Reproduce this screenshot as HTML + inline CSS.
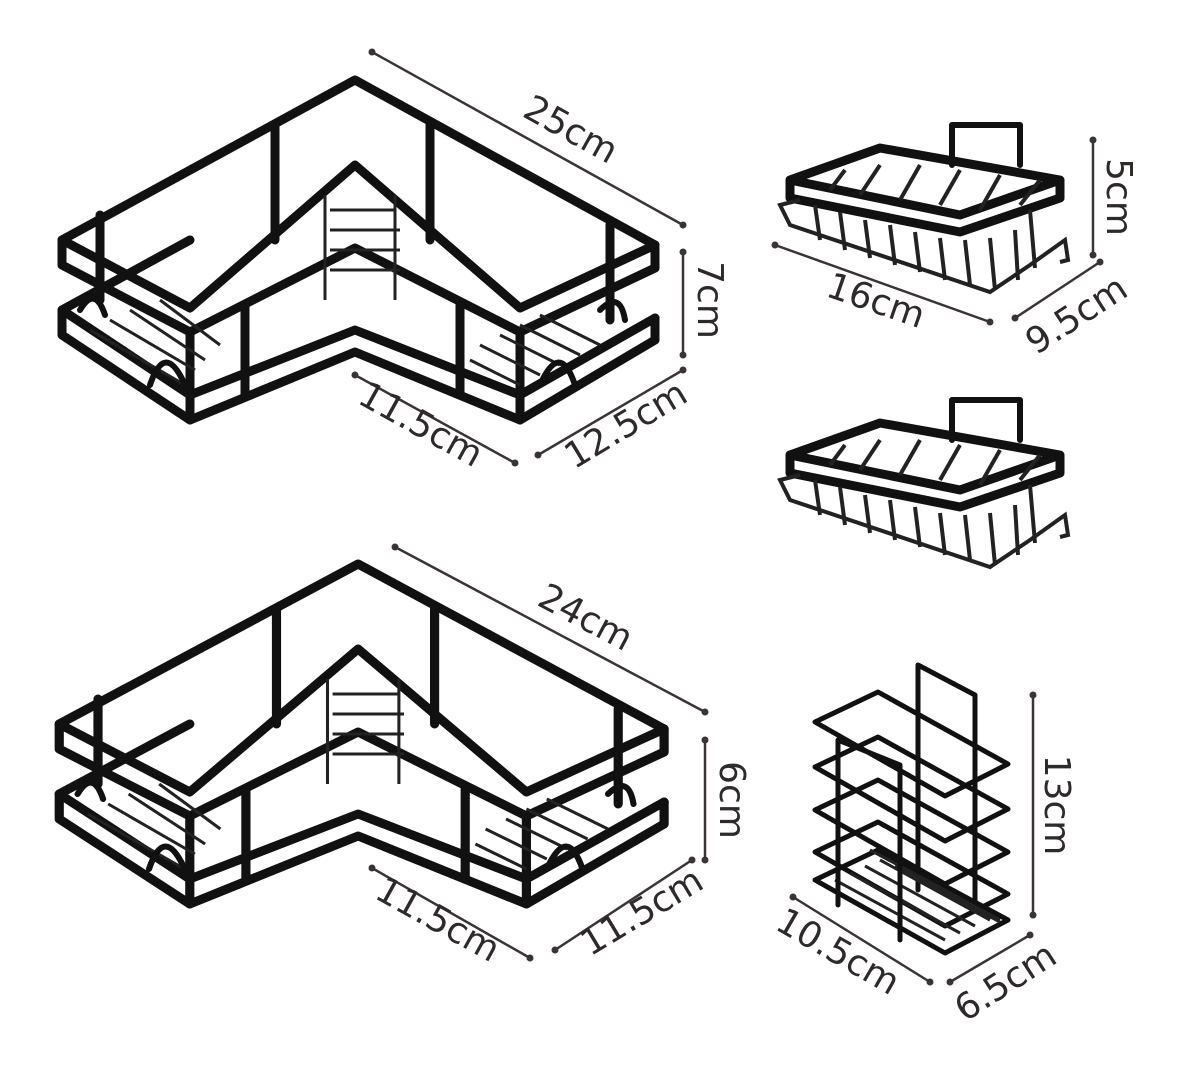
<!DOCTYPE html>
<html><head><meta charset="utf-8"><style>
html,body{margin:0;padding:0;background:#fff;}
svg{display:block;}
text{font-family:"DejaVu Sans","Liberation Sans",sans-serif;fill:#2e2a2a;font-size:36px;}
.d{stroke:#3a3434;stroke-width:2.5;fill:none;}
.b{stroke:#111;stroke-width:9;fill:none;stroke-linejoin:round;stroke-linecap:round;}
.w{stroke:#222;stroke-width:3;fill:none;}
.c{stroke:#111;stroke-width:5;fill:none;stroke-linejoin:round;stroke-linecap:round;}
</style></head><body>
<svg width="1200" height="1067" viewBox="0 0 1200 1067" xmlns="http://www.w3.org/2000/svg">
<defs>
<g id="corner">
  <path class="b" d="M62,240 L355,80 L655,245 L655,268 L520,332 L355,248 L190,332 L62,265 Z"/>
  <path class="b" d="M62,240 L190,308 L355,165 L520,308 L655,245"/>
  <path class="b" d="M62,310 L190,240 M62,310 L62,335 L190,420 L355,352 L520,420 L655,340 L655,318"/>
  <path class="b" d="M62,310 L190,395 L355,330 L520,395 L655,318"/>
  <path class="b" d="M100,215 V300 M275,125 V240 M430,125 V240 M610,225 V320 M190,332 V420 M245,305 V395 M460,305 V395 M520,332 V420"/>
  <path class="w" d="M325,195 V300 M395,195 V300 M330,210 L395,210 M330,230 L400,230 M330,250 L400,250 M330,270 L400,270"/>
  <path class="w" d="M90,330 L185,385 M110,320 L195,370 M130,310 L205,360 M160,300 L220,345 M470,360 L520,385 M480,345 L540,375 M500,335 L560,365 M520,325 L580,355 M540,315 L600,345"/>
  <path class="b" style="stroke-width:6" d="M150,385 Q165,340 185,385 M540,385 Q560,340 575,385 M80,310 Q95,285 105,315 M600,310 Q620,290 625,320"/>
</g>
<g id="soap">
  <path class="b" d="M790,180 L880,148 L1060,180 L1060,198 L960,232 L790,198 Z M790,180 L960,215 L1060,180"/>
  <path class="b" style="stroke-width:6" d="M952,165 V125 L1020,125 V165"/>
  <path class="w" style="stroke-width:4" d="M800,200 L780,205 L790,225 L990,292 L1030,265 L1065,240 L1068,260 L1060,262"/>
  <path class="w" style="stroke-width:4" d="M815,205 L820,240 M840,212 L845,250 M865,220 L870,258 M890,225 L895,265 M915,232 L920,272 M940,238 L945,280 M965,240 L970,285 M990,238 L995,290 M1015,230 L1018,280 M1030,210 L1035,268 M830,190 L845,170 M860,195 L880,165 M900,200 L920,165 M940,205 L960,170 M980,210 L1000,175 M1020,205 L1040,180"/>
</g>
<path id="ring" class="c" d="M815,0 L878,-30 L1008,42 L945,74 Z"/>
</defs>
<use href="#corner"/>
<use href="#corner" transform="translate(-4,484) scale(1.02,1)"/>
<use href="#soap"/>
<use href="#soap" transform="translate(0,275)"/>
<!-- cup holder -->
<g>
  <path class="c" d="M918,890 V665 L975,695 V905"/>
  <use href="#ring" transform="translate(0,722)"/>
  <use href="#ring" transform="translate(0,767)"/>
  <use href="#ring" transform="translate(0,810)"/>
  <use href="#ring" transform="translate(0,852)"/>
  <path class="c" d="M815,880 L878,850 L1008,920 L945,953 Z"/>
  <path class="w" d="M835,880 L945,940 M850,873 L960,933 M865,866 L975,926 M880,860 L990,920 M895,866 L1000,922 M870,850 L1000,920"/>
  <path class="c" d="M838,905 V740 L900,765 V940"/>
</g>
<!-- dimension lines -->
<g class="d">
  <path d="M372,52 L683,225"/><path d="M683,252 V355"/><path d="M355,375 L515,463"/><path d="M538,455 L683,370"/>
  <path d="M395,547 L705,712"/><path d="M705,740 V860"/><path d="M372,868 L530,958"/><path d="M555,950 L692,860"/>
  <path d="M1093,140 V255"/><path d="M775,245 L990,322"/><path d="M1015,318 L1100,262"/>
  <path d="M1033,695 V915"/><path d="M793,897 L930,982"/><path d="M950,982 L1030,935"/>
</g>
<g fill="#3a3434">
  <circle cx="372" cy="52" r="3.5"/><circle cx="683" cy="225" r="3.5"/><circle cx="683" cy="252" r="3.5"/><circle cx="683" cy="355" r="3.5"/>
  <circle cx="355" cy="375" r="3.5"/><circle cx="515" cy="463" r="3.5"/><circle cx="538" cy="455" r="3.5"/><circle cx="683" cy="370" r="3.5"/>
  <circle cx="395" cy="547" r="3.5"/><circle cx="705" cy="712" r="3.5"/><circle cx="705" cy="740" r="3.5"/><circle cx="705" cy="860" r="3.5"/>
  <circle cx="372" cy="868" r="3.5"/><circle cx="530" cy="958" r="3.5"/><circle cx="555" cy="950" r="3.5"/><circle cx="692" cy="860" r="3.5"/>
  <circle cx="1093" cy="140" r="3.5"/><circle cx="1093" cy="255" r="3.5"/><circle cx="775" cy="245" r="3.5"/><circle cx="990" cy="322" r="3.5"/>
  <circle cx="1015" cy="318" r="3.5"/><circle cx="1100" cy="262" r="3.5"/><circle cx="1033" cy="695" r="3.5"/><circle cx="1033" cy="915" r="3.5"/>
  <circle cx="793" cy="897" r="3.5"/><circle cx="930" cy="982" r="3.5"/><circle cx="950" cy="982" r="3.5"/><circle cx="1030" cy="935" r="3.5"/>
</g>
<text transform="translate(565,140) rotate(29)" text-anchor="middle">25cm</text>
<text transform="translate(698,300) rotate(90)" text-anchor="middle">7cm</text>
<text transform="translate(415,435) rotate(29)" text-anchor="middle">11.5cm</text>
<text transform="translate(632,435) rotate(-31)" text-anchor="middle">12.5cm</text>
<text transform="translate(580,628) rotate(28)" text-anchor="middle">24cm</text>
<text transform="translate(720,800) rotate(90)" text-anchor="middle">6cm</text>
<text transform="translate(432,930) rotate(29)" text-anchor="middle">11.5cm</text>
<text transform="translate(648,922) rotate(-31)" text-anchor="middle">11.5cm</text>
<text transform="translate(1107,197) rotate(90)" text-anchor="middle">5cm</text>
<text transform="translate(872,312) rotate(19)" text-anchor="middle">16cm</text>
<text transform="translate(1083,325) rotate(-33)" text-anchor="middle">9.5cm</text>
<text transform="translate(1045,805) rotate(90)" text-anchor="middle">13cm</text>
<text transform="translate(832,962) rotate(30)" text-anchor="middle">10.5cm</text>
<text transform="translate(1012,992) rotate(-33)" text-anchor="middle">6.5cm</text>
</svg>
</body></html>
